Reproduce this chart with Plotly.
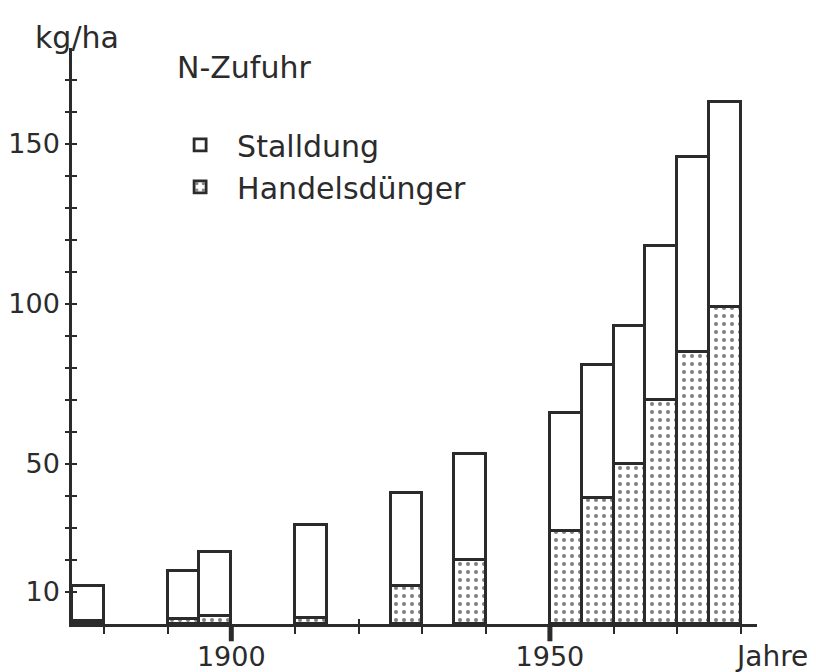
import plotly.graph_objects as go

# ---- data ----
periods_start = [1875, 1890, 1895, 1910, 1925, 1935, 1950, 1955, 1960, 1965, 1970, 1975]
period_len = 5
handelsduenger = [1, 1.5, 2.5, 2, 12, 20, 29, 39.5, 50, 70, 85, 99]
stalldung = [11, 15, 20, 29, 29, 33, 37, 41.5, 43, 48, 61, 64]

y_ticks = [10, 20, 30, 40, 50, 60, 70, 80, 90, 100, 110, 120, 130, 140, 150, 160, 170]
y_labels = {10: "10", 50: "50", 100: "100", 150: "150"}
x_ticks = [1880, 1890, 1900, 1910, 1920, 1930, 1940, 1950, 1960, 1970, 1980]
x_labels = {1900: "1900", 1950: "1950"}
major_years = [1900, 1950]

x_range = [1875, 1982.5]
y_range = [0, 180]

INK = "#2b2b2b"
FONT = "DejaVu Sans"

centers = [s + period_len / 2 for s in periods_start]

fig = go.Figure()
fig.add_trace(go.Bar(
    x=centers, y=handelsduenger, width=period_len, name="Handelsdünger",
    marker=dict(color="white", line=dict(color=INK, width=2.8),
                pattern=dict(shape=".", fgcolor="#000000", bgcolor="white", size=8, solidity=0.2)),
))
fig.add_trace(go.Bar(
    x=centers, y=stalldung, width=period_len, name="Stalldung",
    marker=dict(color="white", line=dict(color=INK, width=2.8)),
))
# empty trace to carry the overlay axes (ticks crossing the axes)
fig.add_trace(go.Scatter(x=[None], y=[None], xaxis="x2", yaxis="y2", showlegend=False, hoverinfo="skip"))

fig.update_layout(
    width=808, height=664,
    margin=dict(l=64, r=59, t=40, b=48, autoexpand=False),
    paper_bgcolor="white", plot_bgcolor="white",
    barmode="stack", bargap=0,
    font=dict(family=FONT, size=27, color=INK),
    showlegend=True,
    legend=dict(x=0.133, y=0.877, xanchor="left", yanchor="top", traceorder="reversed",
                font=dict(size=30, color=INK), bgcolor="rgba(0,0,0,0)",
                itemwidth=64, tracegroupgap=0),
    xaxis=dict(range=x_range, showgrid=False, zeroline=False, automargin=False,
               showline=True, linecolor=INK, linewidth=2.5,
               tickmode="array", tickvals=x_ticks,
               ticktext=[x_labels.get(v, "") for v in x_ticks],
               ticks="outside", ticklen=7, tickwidth=2, tickcolor=INK,
               ticklabelstandoff=0,
               tickfont=dict(size=27, color=INK)),
    yaxis=dict(range=y_range, showgrid=False, zeroline=False, automargin=False,
               showline=True, linecolor=INK, linewidth=2.5,
               tickmode="array", tickvals=y_ticks,
               ticktext=[y_labels.get(v, "") for v in y_ticks],
               ticks="outside", ticklen=4, tickwidth=2, tickcolor=INK,
               tickfont=dict(size=27, color=INK)),
    xaxis2=dict(range=x_range, overlaying="x", anchor="y2", showgrid=False, zeroline=False,
                automargin=False, showline=False, tickmode="array", tickvals=x_ticks,
                showticklabels=False, ticks="inside", ticklen=5, tickwidth=2, tickcolor=INK),
    yaxis2=dict(range=y_range, overlaying="y", anchor="x2", showgrid=False, zeroline=False,
                automargin=False, showline=False, tickmode="array", tickvals=y_ticks,
                showticklabels=False, ticks="inside", ticklen=5, tickwidth=2, tickcolor=INK),
)

# thicker ticks at the labelled years
for yr in major_years:
    fig.add_shape(type="line", xref="x", yref="paper", x0=yr, x1=yr, y0=0, y1=-0.03,
                  line=dict(color=INK, width=5))

fig.add_annotation(text="kg/ha", xref="paper", yref="paper", x=0.007, y=0.985,
                   xanchor="center", yanchor="bottom", showarrow=False,
                   font=dict(size=30, color=INK))
fig.add_annotation(text="N-Zufuhr", xref="paper", yref="paper", x=0.15, y=0.966,
                   xanchor="left", yanchor="middle", showarrow=False,
                   font=dict(size=30, color=INK))
fig.add_annotation(text="Jahre", xref="paper", yref="paper", x=1.077, y=-0.025,
                   xanchor="right", yanchor="top", showarrow=False,
                   font=dict(size=28, color=INK))

fig.write_html("out.html")
